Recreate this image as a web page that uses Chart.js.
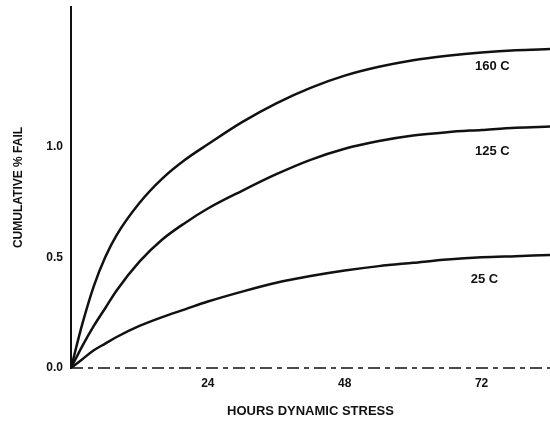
<!DOCTYPE html>
<html>
<head>
<meta charset="utf-8">
<script src="https://cdn.jsdelivr.net/npm/chart.js@4"></script>
<style>
  html, body { margin: 0; padding: 0; background: #fff; }
  #wrap { width: 550px; height: 423px; }
</style>
</head>
<body>
<div id="wrap"><canvas id="c" width="550" height="423"></canvas></div>
<script>
const hours = [0, 2, 4, 6, 8, 12, 16, 20, 24, 30, 36, 42, 48, 54, 60, 66, 72, 78, 84];
const fail160 = [0, 0.20, 0.37, 0.50, 0.60, 0.745, 0.855, 0.94, 1.01, 1.11, 1.195, 1.265, 1.32, 1.36, 1.39, 1.41, 1.425, 1.435, 1.44];
const fail125 = [0, 0.10, 0.19, 0.27, 0.35, 0.48, 0.58, 0.655, 0.72, 0.80, 0.875, 0.94, 0.99, 1.025, 1.05, 1.065, 1.075, 1.085, 1.09];
const fail25  = [0, 0.04, 0.08, 0.11, 0.14, 0.19, 0.23, 0.265, 0.30, 0.345, 0.385, 0.415, 0.44, 0.46, 0.475, 0.49, 0.50, 0.505, 0.51];
const seriesNames = ['160 C', '125 C', '25 C'];
const xTicks = [24, 48, 72];
const yTicks = [0, 0.5, 1.0];

const ink = '#111';
const fontFam = '"Liberation Sans", Arial, sans-serif';

function pts(arr) { return hours.map((h, i) => ({ x: h, y: arr[i] })); }

const labelSpots = [
  { text: seriesNames[0], x: 73.9, y: 1.36 },
  { text: seriesNames[1], x: 73.9, y: 0.98 },
  { text: seriesNames[2], x: 72.5, y: 0.40 }
];

const curveLabels = {
  id: 'curveLabels',
  afterDatasetsDraw(chart) {
    const { ctx, scales } = chart;
    ctx.save();
    ctx.fillStyle = ink;
    ctx.font = 'bold 13px ' + fontFam;
    ctx.textAlign = 'center';
    ctx.textBaseline = 'middle';
    labelSpots.forEach(l => {
      ctx.fillText(l.text, scales.x.getPixelForValue(l.x), scales.y.getPixelForValue(l.y));
    });
    ctx.restore();
  }
};

const dashedBase = {
  id: 'dashedBase',
  beforeDatasetsDraw(chart) {
    const { ctx, scales } = chart;
    const y = scales.y.getPixelForValue(0);
    ctx.save();
    ctx.strokeStyle = ink;
    ctx.lineWidth = 1.5;
    ctx.setLineDash([12, 5, 5, 5]);
    ctx.beginPath();
    ctx.moveTo(scales.x.left, y);
    ctx.lineTo(scales.x.right, y);
    ctx.stroke();
    ctx.restore();
  }
};

const ds = (label, arr) => ({
  label, data: pts(arr), borderColor: ink, borderWidth: 2.5,
  pointRadius: 0, fill: false, cubicInterpolationMode: 'monotone'
});

new Chart(document.getElementById('c'), {
  type: 'line',
  data: { datasets: [ds(seriesNames[0], fail160), ds(seriesNames[1], fail125), ds(seriesNames[2], fail25)] },
  options: {
    responsive: false,
    animation: false,
    layout: { padding: { top: 7, right: 0, left: 0, bottom: 0 } },
    plugins: { legend: { display: false }, tooltip: { enabled: false } },
    scales: {
      x: {
        type: 'linear', min: 0, max: 84,
        afterBuildTicks: s => { s.ticks = xTicks.map(v => ({ value: v })); },
        afterFit: s => { s.height = 55; s.paddingLeft = 0; s.paddingRight = 0; },
        grid: { display: false, drawTicks: false },
        border: { display: false },
        ticks: { color: ink, font: { family: fontFam, size: 12, weight: 'bold' }, padding: 8, maxRotation: 0 },
        title: { display: true, text: 'HOURS DYNAMIC STRESS', color: ink, font: { family: fontFam, size: 13, weight: 'bold' }, padding: { top: 0, bottom: 4 } }
      },
      y: {
        type: 'linear', min: 0, max: 1.63,
        afterBuildTicks: s => { s.ticks = yTicks.map(v => ({ value: v })); },
        afterFit: s => { s.width = 71; s.paddingTop = 0; s.paddingBottom = 0; },
        grid: { display: false, drawTicks: false },
        border: { display: true, color: ink, width: 2 },
        ticks: { color: ink, font: { family: fontFam, size: 12, weight: 'bold' }, padding: 8, callback: v => v.toFixed(1) },
        title: { display: true, text: 'CUMULATIVE % FAIL', color: ink, font: { family: fontFam, size: 12, weight: 'bold' }, padding: { top: 11, bottom: 0 } }
      }
    }
  },
  plugins: [dashedBase, curveLabels]
});
</script>
</body>
</html>
